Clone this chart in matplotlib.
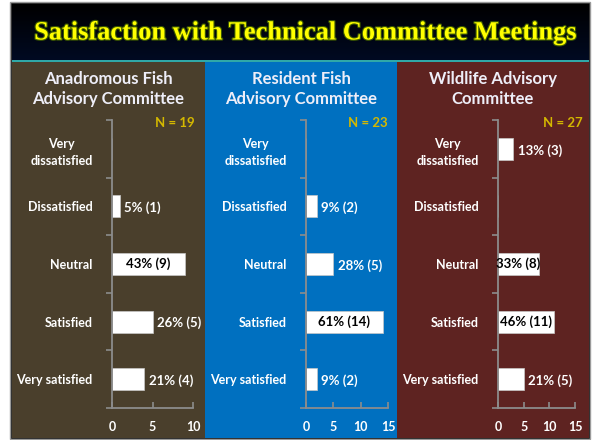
import numpy as np
import matplotlib.pyplot as plt
from matplotlib.patches import Rectangle
from matplotlib.colors import LinearSegmentedColormap
import matplotlib.patheffects as pe

# data
categories = ['Very\ndissatisfied', 'Dissatisfied', 'Neutral', 'Satisfied', 'Very satisfied']
panel_titles = ['Anadromous Fish\nAdvisory Committee',
                'Resident Fish\nAdvisory Committee',
                'Wildlife Advisory\nCommittee']
sample_sizes = [19, 23, 27]
anadromous_counts = [0, 1, 9, 5, 4]
anadromous_pct = [0, 5, 43, 26, 21]
resident_counts = [0, 2, 5, 14, 2]
resident_pct = [0, 9, 28, 61, 9]
wildlife_counts = [3, 0, 8, 11, 5]
wildlife_pct = [13, 0, 33, 46, 21]
x_max = [10, 15, 15]

counts = [anadromous_counts, resident_counts, wildlife_counts]
pcts = [anadromous_pct, resident_pct, wildlife_pct]

W, H = 592, 440
fig = plt.figure(figsize=(W / 100, H / 100), dpi=100)
fig.patch.set_facecolor('white')

def fx(px):
    return px / W

def fy(py):
    return 1 - py / H

FONT = 'Lato'
panel_colors = ['#4a3f2c', '#0070c0', '#5e2321']
panel_edges = [12, 205, 397, 589]
axes_px = [(112, 193), (306, 388), (498, 575)]
n_right = [195, 388, 583]
ax_top, ax_bot = 120, 408

# outer frame and title band
fig.add_artist(Rectangle((fx(10), fy(439)), fx(580), 437 / H, transform=fig.transFigure,
                         facecolor='#1a1a1a', edgecolor='#9a9a9a', lw=1.0, zorder=-3))
band = fig.add_axes([fx(12), fy(60), fx(577), 56 / H])
band.set_zorder(-2)
grad = np.linspace(0, 1, 100).reshape(-1, 1)
band.imshow(grad, aspect='auto', extent=[0, 1, 0, 1],
            cmap=LinearSegmentedColormap.from_list('band', ['#000000', '#000a22']))
band.set_axis_off()
fig.text(fx(305), fy(33), 'Satisfaction with Technical Committee Meetings',
         fontfamily='Liberation Serif', fontweight='bold', fontsize=19, color='#ffff00',
         ha='center', va='center',
         path_effects=[pe.withStroke(linewidth=1.6, foreground='#3d5a00')])
fig.add_artist(Rectangle((fx(12), fy(62)), fx(577), 2 / H, transform=fig.transFigure,
                         facecolor='#2fa8a8', edgecolor='none', zorder=-1))

for i in range(3):
    x0, x1 = panel_edges[i], panel_edges[i + 1]
    fig.add_artist(Rectangle((fx(x0), fy(438)), fx(x1 - x0), 376 / H, transform=fig.transFigure,
                             facecolor=panel_colors[i], edgecolor='none', zorder=-1))
    fig.text(fx((x0 + x1) / 2), fy(89), panel_titles[i], fontfamily=FONT, fontweight='bold',
             fontsize=12, color='#eeeef8', ha='center', va='center', linespacing=1.3)
    fig.text(fx(n_right[i]), fy(123), f'N = {sample_sizes[i]}', ha='right', va='center',
             color='#d4b800', fontfamily=FONT, fontweight='bold', fontsize=9.5)

    a0, a1 = axes_px[i]
    ax = fig.add_axes([fx(a0), fy(ax_bot), fx(a1 - a0), (ax_bot - ax_top) / H])
    ax.set_facecolor('none')
    y = np.arange(len(categories))
    ax.barh(y, counts[i], height=0.38, color='white', edgecolor='#c8c8c8', lw=0.5)
    ax.set_xlim(0, x_max[i])
    ax.set_ylim(len(categories) - 0.5, -0.5)
    for s in ['top', 'right']:
        ax.spines[s].set_visible(False)
    for s in ['left', 'bottom']:
        ax.spines[s].set_color('#8c8c8c')
        ax.spines[s].set_linewidth(1.3)
    ax.set_yticks(np.arange(-0.5, len(categories), 1.0))
    ax.set_yticklabels([])
    ax.set_yticks(y, minor=True)
    ax.set_yticklabels(categories, minor=True, fontfamily=FONT, fontweight='bold',
                       fontsize=9, color='white', multialignment='center', linespacing=1.5)
    ax.tick_params(axis='y', which='major', length=4, color='#8c8c8c', width=1.2)
    ax.tick_params(axis='y', which='minor', length=0, pad=14)
    ax.set_xticks(np.arange(0, x_max[i] + 1, 5))
    ax.tick_params(axis='x', direction='in', length=4, color='#8c8c8c', width=1.2,
                   labelcolor='white', labelsize=9, pad=9)
    for lab in ax.get_xticklabels():
        lab.set_fontfamily(FONT)
        lab.set_fontweight('bold')

    for j, (c, p) in enumerate(zip(counts[i], pcts[i])):
        if c == 0:
            continue
        txt = f'{p}% ({c})'
        if c > x_max[i] / 2:
            ax.text(c / 2, j, txt, ha='center', va='center', color='black',
                    fontfamily=FONT, fontweight='bold', fontsize=9.5)
        else:
            ax.annotate(txt, (c, j), xytext=(3, -1), textcoords='offset points',
                        ha='left', va='center', color='white',
                        fontfamily=FONT, fontweight='bold', fontsize=9.5)

fig.savefig('out.png', dpi=100, facecolor='white')
